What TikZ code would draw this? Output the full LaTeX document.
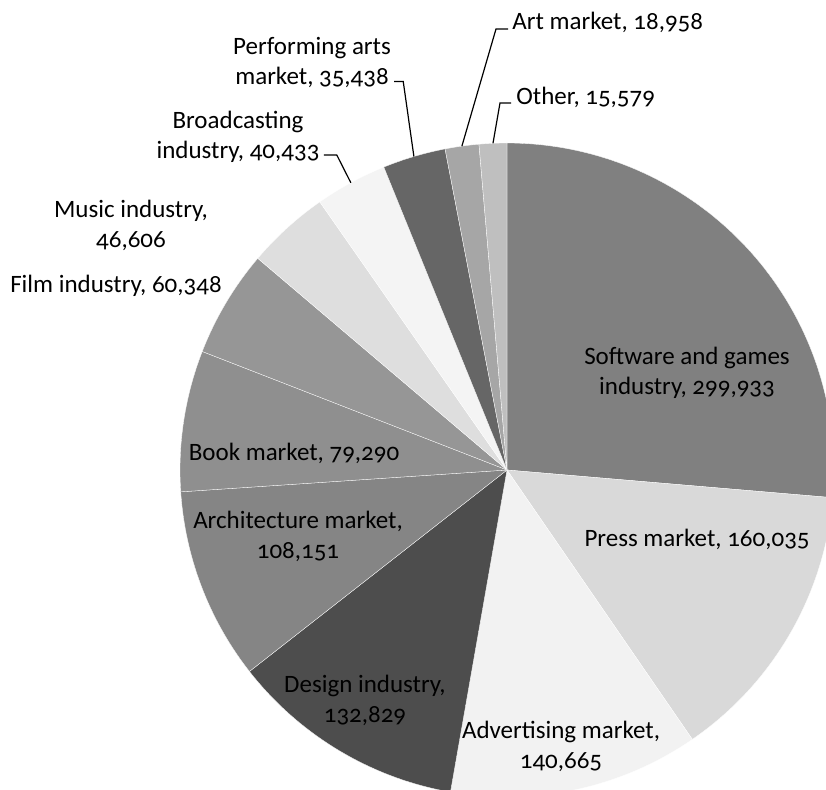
\documentclass[tikz,border=0pt]{standalone}
\usepackage{fontspec}
\setmainfont{Carlito}[Numbers=OldStyle]
\usepackage{tikz}

\definecolor{softgray}{HTML}{808080}
\definecolor{pressgray}{HTML}{D9D9D9}
\definecolor{advgray}{HTML}{F2F2F2}
\definecolor{designgray}{HTML}{4D4D4D}
\definecolor{archgray}{HTML}{858585}
\definecolor{bookgray}{HTML}{8F8F8F}
\definecolor{filmgray}{HTML}{969696}
\definecolor{musicgray}{HTML}{DEDEDE}
\definecolor{broadgray}{HTML}{F4F4F4}
\definecolor{perfgray}{HTML}{666666}
\definecolor{artgray}{HTML}{A6A6A6}
\definecolor{othergray}{HTML}{BFBFBF}

\begin{document}
\begin{tikzpicture}[x=0.5pt,y=0.5pt,
		slice/.style={draw=white,line width=0.15pt},
		lbl/.style={inner sep=0pt,align=center,font=\fontsize{12.5}{15}\selectfont},
		lead/.style={draw=black,line width=0.6pt}]
		\useasboundingbox (0,0) rectangle (826,789);

		\coordinate (c) at (507,319);

		% slices, clockwise from the top
		\filldraw[slice,fill=softgray]   (c) -- ++(90:327) arc[start angle=90,end angle=-4.86,radius=327] -- cycle;
		\filldraw[slice,fill=pressgray]  (c) -- ++(-4.86:327) arc[start angle=-4.86,end angle=-55.47,radius=327] -- cycle;
		\filldraw[slice,fill=advgray]    (c) -- ++(-55.47:327) arc[start angle=-55.47,end angle=-99.96,radius=327] -- cycle;
		\filldraw[slice,fill=designgray] (c) -- ++(-99.96:327) arc[start angle=-99.96,end angle=-141.97,radius=327] -- cycle;
		\filldraw[slice,fill=archgray]   (c) -- ++(-141.97:327) arc[start angle=-141.97,end angle=-176.17,radius=327] -- cycle;
		\filldraw[slice,fill=bookgray]   (c) -- ++(-176.17:327) arc[start angle=-176.17,end angle=-201.25,radius=327] -- cycle;
		\filldraw[slice,fill=filmgray]   (c) -- ++(-201.25:327) arc[start angle=-201.25,end angle=-220.34,radius=327] -- cycle;
		\filldraw[slice,fill=musicgray]  (c) -- ++(-220.34:327) arc[start angle=-220.34,end angle=-235.08,radius=327] -- cycle;
		\filldraw[slice,fill=broadgray]  (c) -- ++(-235.08:327) arc[start angle=-235.08,end angle=-247.87,radius=327] -- cycle;
		\filldraw[slice,fill=perfgray]   (c) -- ++(-247.87:327) arc[start angle=-247.87,end angle=-259.08,radius=327] -- cycle;
		\filldraw[slice,fill=artgray]    (c) -- ++(-259.08:327) arc[start angle=-259.08,end angle=-265.08,radius=327] -- cycle;
		\filldraw[slice,fill=othergray]  (c) -- ++(-265.08:327) arc[start angle=-265.08,end angle=-270,radius=327] -- cycle;

		% labels
		\node[lbl] (l1) at (687,416) {Software and games\\industry, 299,933};
		\node[lbl] (l2) at (697,250) {Press market, 160,035};
		\node[lbl] (l3) at (561,43) {Advertising market,\\140,665};
		\node[lbl] (l4) at (365,89) {Design industry,\\132,829};
		\node[lbl] (l5) at (298,253) {Architecture market,\\108,151};
		\node[lbl] (l6) at (294,336) {Book market, 79,290};
		\node[lbl] (l7) at (116,503) {Film industry, 60,348};
		\node[lbl] (l8) at (131,564) {Music industry,\\46,606};
		\node[lbl] (l9) at (238,652) {Broadcasting\\industry, 40,433};
		\node[lbl] (l10) at (312,726) {Performing arts\\market, 35,438};
		\node[lbl,anchor=west] (l11) at (512,767) {Art market, 18,958};
		\node[lbl,anchor=west] (l12) at (516,692) {Other, 15,579};

		% leader lines to the small slices
		\path (c) ++(118.53:327) coordinate (p9);
		\path (c) ++(106.54:327) coordinate (p10);
		\path (c) ++(97.93:327) coordinate (p11);
		\path (c) ++(92.46:327) coordinate (p12);
		\draw[lead] ([shift={(2pt,4pt)}]l9.south east) -- ++(13,0) -- (p9);
		\draw[lead] ([shift={(1.5pt,3.5pt)}]l10.south east) -- ++(9,0) -- (p10);
		\draw[lead] ([shift={(-2pt,-3.5pt)}]l11.west) -- ++(-12,0) -- (p11);
		\draw[lead] ([shift={(-2.5pt,-3pt)}]l12.west) -- ++(-11,0) -- (p12);

	\end{tikzpicture}
\end{document}
